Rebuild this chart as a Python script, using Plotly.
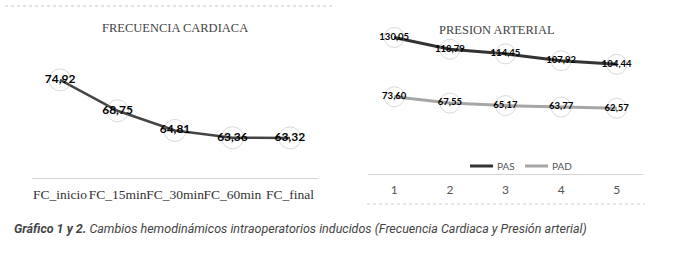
import plotly.graph_objects as go

fc_categories = ["FC_inicio", "FC_15min", "FC_30min", "FC_60min", "FC_final"]
fc_values = [74.92, 68.75, 64.81, 63.36, 63.32]

pa_categories = ["1", "2", "3", "4", "5"]
pas_values = [130.05, 118.79, 114.45, 107.92, 104.44]
pad_values = [73.60, 67.55, 65.17, 63.77, 62.57]

def fmt(v):
    return "<b>" + f"{v:.2f}".replace(".", ",") + "</b>"

W, H = 673, 257
fig = go.Figure()

circle = dict(symbol="circle-open", size=22, color="rgba(170,170,170,0.45)", line=dict(width=1))

fig.add_trace(go.Scatter(
    x=fc_categories, y=fc_values, mode="lines+markers+text",
    text=[fmt(v) for v in fc_values], textposition="middle center",
    textfont=dict(family="Lato", size=12, color="#000000"),
    line=dict(color="#454545", width=2.5), marker=circle,
    xaxis="x", yaxis="y", showlegend=False, cliponaxis=False))

fig.add_trace(go.Scatter(
    x=pa_categories, y=pas_values, mode="lines+markers+text", name="PAS",
    text=[fmt(v) for v in pas_values], textposition="middle center",
    textfont=dict(family="Lato", size=9.5, color="#000000"),
    line=dict(color="#333333", width=3), marker=dict(circle, size=20),
    xaxis="x2", yaxis="y2", cliponaxis=False, showlegend=False))

fig.add_trace(go.Scatter(
    x=pa_categories, y=pad_values, mode="lines+markers+text", name="PAD",
    text=[fmt(v) for v in pad_values], textposition="middle center",
    textfont=dict(family="Lato", size=9.5, color="#000000"),
    line=dict(color="#a6a6a6", width=3), marker=dict(circle, size=20),
    xaxis="x2", yaxis="y2", cliponaxis=False, showlegend=False))

def px_x(a, b):
    return [a / W, b / W]

def px_y(top, bottom):
    return [(H - bottom) / H, (H - top) / H]

def hline(x0, x1, y, color, width=1, dash="solid"):
    return dict(type="line", xref="paper", yref="paper", x0=x0 / W, x1=x1 / W,
                y0=(H - y) / H, y1=(H - y) / H, line=dict(color=color, width=width, dash=dash))

def label(text, x, y, size, color, family="Lato", xanchor="left"):
    return dict(text=text, xref="paper", yref="paper", x=x / W, y=(H - y) / H,
                showarrow=False, xanchor=xanchor, yanchor="middle",
                font=dict(family=family, size=size, color=color))

fig.update_layout(
    width=W, height=H, margin=dict(l=0, r=0, t=0, b=0),
    paper_bgcolor="white", plot_bgcolor="white", showlegend=False,
    xaxis=dict(domain=px_x(32, 318), showline=True, linecolor="#d4d4d4", linewidth=1,
               showgrid=False, zeroline=False, ticks="", tickangle=0, ticklabelstandoff=4,
               tickfont=dict(family="Liberation Serif", size=13.5, color="#333333")),
    yaxis=dict(domain=px_y(54.5, 178), range=[55.3, 80.0], visible=False, showgrid=False),
    xaxis2=dict(domain=px_x(368, 643), showline=True, linecolor="#d4d4d4", linewidth=1,
                showgrid=False, zeroline=False, ticks="", tickangle=0, ticklabelstandoff=5,
                tickfont=dict(family="Lato", size=12, color="#555555"),
                anchor="y2"),
    yaxis2=dict(domain=px_y(27, 174), range=[0, 140], visible=False, showgrid=False,
                anchor="x2"),
    shapes=[
        hline(5, 333, 6, "#c8c8c8", dash="dot"),
        hline(367, 645, 204, "#c8d8c8", dash="dot"),
        hline(470, 493, 166, "#333333", width=3),
        hline(525, 548, 166, "#a6a6a6", width=3),
    ],
    annotations=[
        label("FRECUENCIA CARDIACA", 175, 28, 12.5, "#444444", "Liberation Serif", "center"),
        label("PRESION ARTERIAL", 497, 30, 12.5, "#444444", "Liberation Serif", "center"),
        label("PAS", 495, 166, 10, "#555555"),
        label("PAD", 550, 166, 10, "#555555"),
        label("<b><i>Gráfico 1 y 2.</i></b><i> Cambios hemodinámicos intraoperatorios inducidos (Frecuencia Cardiaca y Presión arterial)</i>",
              12, 228, 12.5, "#444444", "Roboto"),
    ],
)

fig.write_html("out.html")
